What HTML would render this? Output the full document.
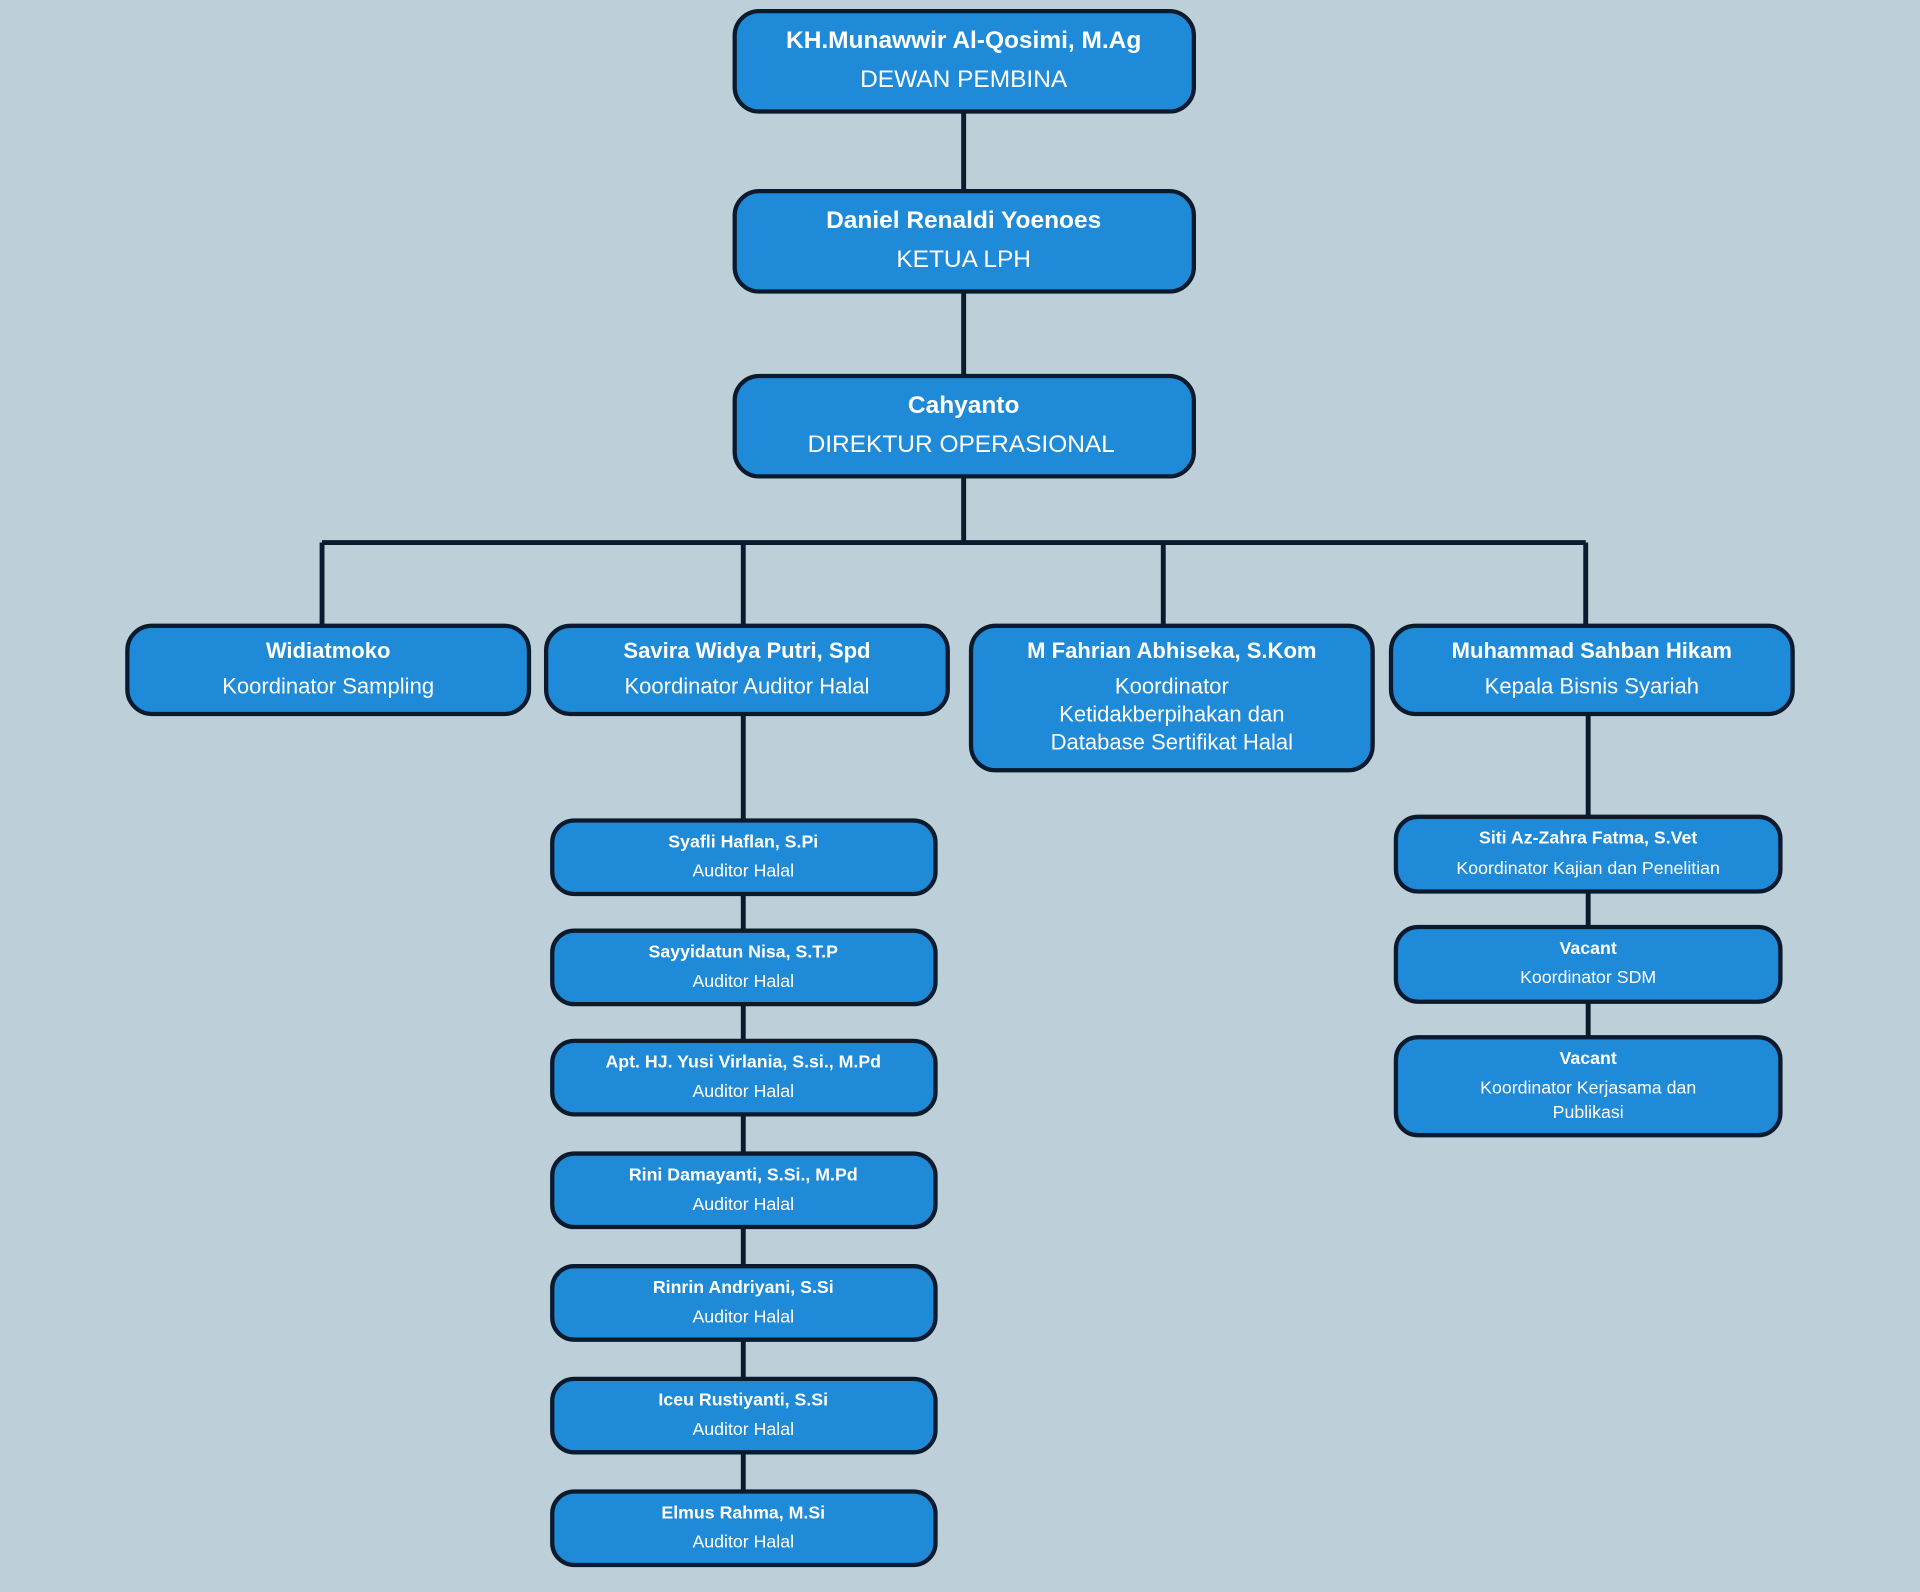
<!DOCTYPE html>
<html><head><meta charset="utf-8"><style>
html,body{margin:0;padding:0;background:#bdd0da;}
svg{display:block}
text{font-family:"Liberation Sans",sans-serif;fill:#fff;text-anchor:middle;dominant-baseline:central}
.b{font-weight:bold}
</style></head><body>
<svg width="1920" height="1592" viewBox="0 0 1568 1300" xmlns="http://www.w3.org/2000/svg">
<rect width="1568" height="1300" fill="#bdd0da"/>
<g stroke="#0b1a2c" stroke-width="4" fill="none">
<path d="M787 91V156M787 238V307M787 389V443M263 443H1295M263 443V511M607 443V511M950 443V511M1295 443V511"/>
<path d="M607 583V670M607 730V760M607 820V850M607 910V942M607 1002V1034M607 1094V1126M607 1186V1218"/>
<path d="M1297 583V667M1297 728V757M1297 818V847"/>
</g>
<g fill="#1e8ad8" stroke="#0b1a2c" stroke-width="3.5">
<rect x="600" y="9" width="375" height="82" rx="20"/>
<rect x="600" y="156" width="375" height="82" rx="20"/>
<rect x="600" y="307" width="375" height="82" rx="20"/>
<rect x="104" y="511" width="328" height="72" rx="20"/>
<rect x="446" y="511" width="328" height="72" rx="20"/>
<rect x="793" y="511" width="328" height="118" rx="20"/>
<rect x="1136" y="511" width="328" height="72" rx="20"/>
<rect x="451" y="670" width="313" height="60" rx="18"/>
<rect x="451" y="760" width="313" height="60" rx="18"/>
<rect x="451" y="850" width="313" height="60" rx="18"/>
<rect x="451" y="942" width="313" height="60" rx="18"/>
<rect x="451" y="1034" width="313" height="60" rx="18"/>
<rect x="451" y="1126" width="313" height="60" rx="18"/>
<rect x="451" y="1218" width="313" height="60" rx="18"/>
<rect x="1140" y="667" width="314" height="61" rx="18"/>
<rect x="1140" y="757" width="314" height="61" rx="18"/>
<rect x="1140" y="847" width="314" height="80" rx="18"/>
</g>
<g font-size="20">
<text class="b" x="787" y="33">KH.Munawwir Al-Qosimi, M.Ag</text>
<text x="787" y="65">DEWAN PEMBINA</text>
<text class="b" x="787" y="180">Daniel Renaldi Yoenoes</text>
<text x="787" y="212">KETUA LPH</text>
<text class="b" x="787" y="331">Cahyanto</text>
<text x="785" y="363">DIREKTUR OPERASIONAL</text>
</g>
<g font-size="18">
<text class="b" x="268" y="531">Widiatmoko</text>
<text x="268" y="560">Koordinator Sampling</text>
<text class="b" x="610" y="531">Savira Widya Putri, Spd</text>
<text x="610" y="560">Koordinator Auditor Halal</text>
<text class="b" x="957" y="531">M Fahrian Abhiseka, S.Kom</text>
<text x="957" y="560">Koordinator</text>
<text x="957" y="583">Ketidakberpihakan dan</text>
<text x="957" y="606">Database Sertifikat Halal</text>
<text class="b" x="1300" y="531">Muhammad Sahban Hikam</text>
<text x="1300" y="560">Kepala Bisnis Syariah</text>
</g>
<g font-size="14.5">
<text class="b" x="607" y="687">Syafli Haflan, S.Pi</text><text x="607" y="711">Auditor Halal</text>
<text class="b" x="607" y="777">Sayyidatun Nisa, S.T.P</text><text x="607" y="801">Auditor Halal</text>
<text class="b" x="607" y="867">Apt. HJ. Yusi Virlania, S.si., M.Pd</text><text x="607" y="891">Auditor Halal</text>
<text class="b" x="607" y="959">Rini Damayanti, S.Si., M.Pd</text><text x="607" y="983">Auditor Halal</text>
<text class="b" x="607" y="1051">Rinrin Andriyani, S.Si</text><text x="607" y="1075">Auditor Halal</text>
<text class="b" x="607" y="1143">Iceu Rustiyanti, S.Si</text><text x="607" y="1167">Auditor Halal</text>
<text class="b" x="607" y="1235">Elmus Rahma, M.Si</text><text x="607" y="1259">Auditor Halal</text>
<text class="b" x="1297" y="684">Siti Az-Zahra Fatma, S.Vet</text><text x="1297" y="709">Koordinator Kajian dan Penelitian</text>
<text class="b" x="1297" y="774">Vacant</text><text x="1297" y="798">Koordinator SDM</text>
<text class="b" x="1297" y="864">Vacant</text><text x="1297" y="888">Koordinator Kerjasama dan</text><text x="1297" y="908">Publikasi</text>
</g>
</svg>
</body></html>
